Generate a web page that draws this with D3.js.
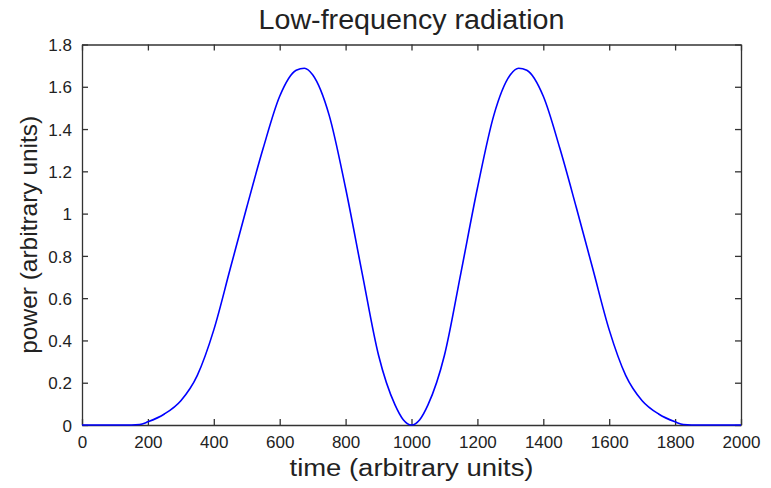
<!DOCTYPE html>
<html><head><meta charset="utf-8">
<script src="https://cdn.jsdelivr.net/npm/d3@7"></script>
<style>body{margin:0;background:#fff}svg{display:block}text{font-family:"Liberation Sans",Arial,sans-serif;fill:#222}</style>
</head><body>
<script>
const times = [0,50,100,150,175,200,250,300,350,400,450,500,550,600,650,675,700,750,800,850,900,950,975,1000,
  1025,1050,1100,1150,1200,1250,1300,1325,1350,1400,1450,1500,1550,1600,1650,1700,1750,1800,1825,1850,1900,1950,2000];
const power = [0,0,0,0,0.002,0.015,0.052,0.115,0.235,0.45,0.74,1.03,1.31,1.555,1.678,1.688,1.657,1.466,1.12,0.72,0.33,0.095,0.025,0,
  0.025,0.095,0.33,0.72,1.12,1.466,1.657,1.688,1.678,1.555,1.31,1.03,0.74,0.45,0.235,0.115,0.052,0.015,0.002,0,0,0,0];
const xTicks = [0,200,400,600,800,1000,1200,1400,1600,1800,2000];
const yTicks = [0,0.2,0.4,0.6,0.8,1,1.2,1.4,1.6,1.8];
const titleText = "Low-frequency radiation";
const xLabel = "time (arbitrary units)";
const yLabel = "power (arbitrary units)";

const W = 771, H = 488;
const L = 82, R = 741, T = 44.5, B = 425;
const svg = d3.select("body").append("svg").attr("width", W).attr("height", H);
const x = d3.scaleLinear().domain([0,2000]).range([L,R]);
const y = d3.scaleLinear().domain([0,1.8]).range([B,T]);
const tl = 6;
const fmt = d => String(d);

const gx = svg.append("g").attr("transform",`translate(0,${B})`)
  .call(d3.axisBottom(x).tickValues(xTicks).tickFormat(fmt).tickSizeInner(-tl).tickSizeOuter(0).tickPadding(11));
const gxt = svg.append("g").attr("transform",`translate(0,${T})`)
  .call(d3.axisTop(x).tickValues(xTicks).tickFormat("").tickSizeInner(-tl).tickSizeOuter(0));
const gy = svg.append("g").attr("transform",`translate(${L},0)`)
  .call(d3.axisLeft(y).tickValues(yTicks).tickFormat(fmt).tickSizeInner(-tl).tickSizeOuter(0).tickPadding(10));
const gyr = svg.append("g").attr("transform",`translate(${R},0)`)
  .call(d3.axisRight(y).tickValues(yTicks).tickFormat("").tickSizeInner(-tl).tickSizeOuter(0));
[gx,gxt,gy,gyr].forEach(g=>{
  g.selectAll("path").attr("stroke","#333").attr("stroke-width",1.3);
  g.selectAll("line").attr("stroke","#333").attr("stroke-width",1.3);
  g.selectAll("text").attr("font-size",17).attr("fill","#222").attr("font-family","Liberation Sans, Arial, sans-serif");
});
gy.selectAll("text").attr("dy","0.36em");

svg.append("path").datum(times.map((t,i)=>[t,power[i]]))
  .attr("fill","none").attr("stroke","#0000ff").attr("stroke-width",1.6)
  .attr("d", d3.line().x(d=>x(d[0])).y(d=>y(d[1])).curve(d3.curveMonotoneX));

svg.append("text").attr("x",(L+R)/2).attr("y",29).attr("text-anchor","middle")
  .attr("font-size",27).attr("textLength",306).attr("lengthAdjust","spacingAndGlyphs").text(titleText);
svg.append("text").attr("x",(L+R)/2).attr("y",476).attr("text-anchor","middle")
  .attr("font-size",23).attr("textLength",244).attr("lengthAdjust","spacingAndGlyphs").text(xLabel);
svg.append("text").attr("transform",`translate(37,${(T+B)/2}) rotate(-90)`).attr("text-anchor","middle")
  .attr("font-size",24).attr("textLength",238).attr("lengthAdjust","spacingAndGlyphs").text(yLabel);
</script>
</body></html>
